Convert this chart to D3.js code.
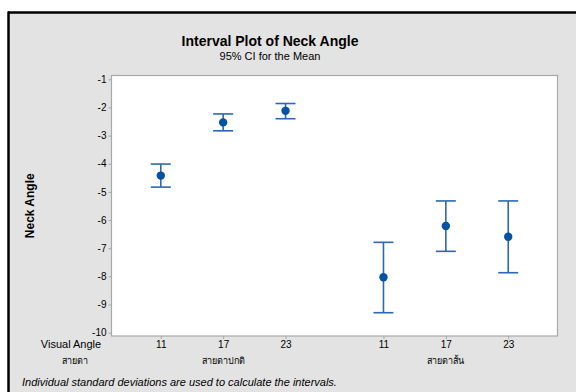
<!DOCTYPE html>
<html>
<head>
<meta charset="utf-8">
<script src="https://cdn.jsdelivr.net/npm/d3@7"></script>
<style>
  html, body { margin: 0; padding: 0; background: #fff; }
  svg { display: block; font-family: "Liberation Sans", Arial, sans-serif; }
</style>
</head>
<body>
<svg id="chart" width="576" height="392"></svg>
<script>
// Interval plot: mean neck angle with 95% CI, by visual angle within eyesight group
const groups = ["สายตาปกติ", "สายตาสั้น"];
const levels = ["11", "17", "23"];
const means = [-4.42, -2.53, -2.12, -8.03, -6.21, -6.59];
const lower = [-4.83, -2.83, -2.40, -9.29, -7.11, -7.87];
const upper = [-4.01, -2.23, -1.86, -6.79, -5.32, -5.32];
const yTicks = [-1, -2, -3, -4, -5, -6, -7, -8, -9, -10];

const svg = d3.select("#chart");
const W = 576, H = 392;

// figure frame
svg.append("rect").attr("x", 8).attr("y", 12).attr("width", W - 8).attr("height", H - 12)
  .attr("fill", "#e3e3e3");
svg.append("line").attr("x1", 8).attr("x2", W).attr("y1", 12.5).attr("y2", 12.5)
  .attr("stroke", "#000").attr("stroke-width", 2.5);
svg.append("line").attr("x1", 8.5).attr("x2", 8.5).attr("y1", 11.5).attr("y2", H)
  .attr("stroke", "#000").attr("stroke-width", 2.5);

const plot = { left: 111.5, right: 557.5, top: 75.5, bottom: 336 };
const gap = 0.57;
const rows = means.map((m, i) => {
  const g = Math.floor(i / levels.length), l = i % levels.length;
  return { group: g, level: levels[l], pos: g * (levels.length + gap) + l,
           mean: m, lo: lower[i], hi: upper[i] };
});
const pad = 0.79;
const x = d3.scaleLinear()
  .domain([-pad, d3.max(rows, d => d.pos) + pad])
  .range([plot.left, plot.right]);
const y = d3.scaleLinear().domain([-1, -10]).range([79.3, 332.7]);

svg.append("rect")
  .attr("x", plot.left).attr("y", plot.top)
  .attr("width", plot.right - plot.left).attr("height", plot.bottom - plot.top)
  .attr("fill", "#fff").attr("stroke", "#a8a8a8").attr("stroke-width", 1.2);

// y axis
const yAxis = svg.append("g").attr("transform", `translate(${plot.left},0)`)
  .call(d3.axisLeft(y).tickValues(yTicks).tickSize(3).tickPadding(2).tickFormat(d => String(d)));
yAxis.select(".domain").remove();
yAxis.selectAll(".tick line").attr("stroke", "#a8a8a8");
yAxis.selectAll(".tick text").attr("font-size", 10).attr("fill", "#000")
  .attr("font-family", "Liberation Sans, Arial, sans-serif");

// x axis: category ticks below the plot
const xAxis = svg.append("g").attr("transform", `translate(0,${plot.bottom})`)
  .call(d3.axisBottom(x).tickValues(rows.map(d => d.pos)).tickSize(3).tickPadding(2)
    .tickFormat((d, i) => rows[i].level));
xAxis.select(".domain").remove();
xAxis.selectAll(".tick line").attr("stroke", "#a8a8a8");
xAxis.selectAll(".tick text").attr("font-size", 10).attr("fill", "#000")
  .attr("font-family", "Liberation Sans, Arial, sans-serif");

// factor names and group labels
svg.append("text").attr("x", 71).attr("y", 348).attr("text-anchor", "middle")
  .attr("font-size", 11).text("Visual Angle");
svg.append("text").attr("x", 75).attr("y", 364).attr("text-anchor", "middle")
  .attr("font-size", 9).text("สายตา");
groups.forEach((g, gi) => {
  const mid = d3.mean(rows.filter(d => d.group === gi), d => d.pos);
  svg.append("text").attr("x", x(mid)).attr("y", 364).attr("text-anchor", "middle")
    .attr("font-size", 9).text(g);
});

// intervals
const lineColor = "#2a68b4", dotColor = "#0352a3", capHalf = 10;
const iv = svg.append("g").selectAll("g").data(rows).join("g");
iv.append("line")
  .attr("x1", d => x(d.pos)).attr("x2", d => x(d.pos))
  .attr("y1", d => y(d.hi)).attr("y2", d => y(d.lo))
  .attr("stroke", lineColor).attr("stroke-width", 1.6);
iv.append("line")
  .attr("x1", d => x(d.pos) - capHalf).attr("x2", d => x(d.pos) + capHalf)
  .attr("y1", d => y(d.hi)).attr("y2", d => y(d.hi))
  .attr("stroke", lineColor).attr("stroke-width", 1.6);
iv.append("line")
  .attr("x1", d => x(d.pos) - capHalf).attr("x2", d => x(d.pos) + capHalf)
  .attr("y1", d => y(d.lo)).attr("y2", d => y(d.lo))
  .attr("stroke", lineColor).attr("stroke-width", 1.6);
iv.append("circle")
  .attr("cx", d => x(d.pos)).attr("cy", d => y(d.mean)).attr("r", 4.2)
  .attr("fill", dotColor);

// titles
svg.append("text").attr("x", 270).attr("y", 46).attr("text-anchor", "middle")
  .attr("font-size", 14).attr("font-weight", "bold")
  .text("Interval Plot of Neck Angle");
svg.append("text").attr("x", 270).attr("y", 60).attr("text-anchor", "middle")
  .attr("font-size", 11).text("95% CI for the Mean");
svg.append("text")
  .attr("transform", `translate(34,${(plot.top + plot.bottom) / 2}) rotate(-90)`)
  .attr("text-anchor", "middle").attr("font-size", 12).attr("font-weight", "bold")
  .text("Neck Angle");

// footnote
svg.append("text").attr("x", 22).attr("y", 386).attr("font-size", 11)
  .attr("font-style", "italic")
  .text("Individual standard deviations are used to calculate the intervals.");
</script>
</body>
</html>
